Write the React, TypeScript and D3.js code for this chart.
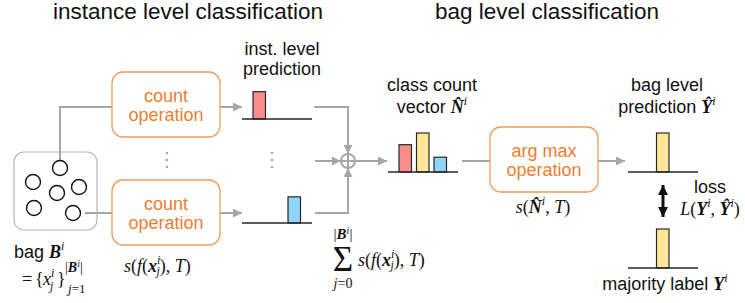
import React from 'react';
import * as d3 from 'd3';

// three classes, one colour each
const classes = ['class1', 'class2', 'class3'];
const classColors = ['#FF8C8C', '#FFE699', '#8FD6F6'];

// relative bar heights of each small histogram
const instTopPred = [0.7, 0, 0];
const instBottomPred = [0, 0, 0.67];
const classCount = [0.7, 1, 0.38];
const bagPred = [0, 1, 0];
const majorityLabel = [0, 1, 0];

// bag instances (circle centres)
const bagInstances = [
  [60, 168], [33, 182], [57, 193], [79, 187], [34, 208], [73, 213],
];

const W = 745;
const H = 303;
const SANS = '"Liberation Sans", Arial, sans-serif';
const SERIF = '"Liberation Serif", "Times New Roman", serif';
const GRAY = '#A6A6A6';
const ORANGE_TEXT = '#ED7D31';
const ORANGE_LINE = '#F29B5B';

const xBand = d3.scaleBand<string>().domain(classes).range([11, 58.5]).paddingInner(0.286);
const hScale = d3.scaleLinear().domain([0, 1]).range([0, 39]);

const Histogram = ({ x0, y0, values }: { x0: number; y0: number; values: number[] }) => (
  <g transform={`translate(${x0},${y0})`}>
    {values.map((v, i) =>
      v > 0 ? (
        <rect
          key={i}
          x={xBand(classes[i])}
          y={-hScale(v)}
          width={xBand.bandwidth()}
          height={hScale(v)}
          fill={classColors[i]}
          stroke="#262626"
          strokeWidth={1.2}
        />
      ) : null
    )}
    <line x1={0} x2={70} y1={0} y2={0} stroke="#262626" strokeWidth={1.3} />
  </g>
);

const OpBox = ({ x, y, lines }: { x: number; y: number; lines: string[] }) => (
  <g>
    <rect x={x} y={y} width={108} height={65} rx={11} fill="#fff" stroke={ORANGE_LINE} strokeWidth={1.3} />
    {lines.map((t, i) => (
      <text key={i} x={x + 54} y={y + 30 + i * 19} textAnchor="middle" fontSize={18} fill={ORANGE_TEXT} fontFamily={SANS}>
        {t}
      </text>
    ))}
  </g>
);

const Dots = ({ x }: { x: number }) => (
  <g fill={GRAY}>
    {[153, 160, 167].map((y) => (
      <circle key={y} cx={x} cy={y} r={1.3} />
    ))}
  </g>
);

const it = { fontStyle: 'italic' } as const;
const bi = { fontStyle: 'italic', fontWeight: 'bold' } as const;

// s(f(x_j^i), T)
const SFX = ({ x, y }: { x: number; y: number }) => (
  <text x={x} y={y}>
    <tspan style={it}>s</tspan>(<tspan style={it}>f</tspan>(<tspan style={bi}>x</tspan>
    <tspan style={it} fontSize={12} dy={-8}>i</tspan>
    <tspan style={it} fontSize={12} dx={-4} dy={11}>j</tspan>
    <tspan dy={-3}>), </tspan><tspan style={it}>T</tspan>)
  </text>
);

export default function App() {
  return (
    <svg width={W} height={H} style={{ position: 'absolute', left: 0, top: 0, background: '#fff' }}>
      <defs>
        <marker id="ag" viewBox="0 0 10 10" refX={10} refY={5} markerWidth={9} markerHeight={9} markerUnits="userSpaceOnUse" orient="auto">
          <path d="M0,0 L10,5 L0,10 z" fill={GRAY} />
        </marker>
        <marker id="ab" viewBox="0 0 10 10" refX={10} refY={5} markerWidth={10} markerHeight={11} markerUnits="userSpaceOnUse" orient="auto-start-reverse">
          <path d="M0,0 L10,5 L0,10 z" fill="#111" />
        </marker>
      </defs>

      {/* titles */}
      <text x={188} y={19} textAnchor="middle" fontSize={22.5} fontFamily={SANS} fill="#111">instance level classification</text>
      <text x={547} y={19} textAnchor="middle" fontSize={22.5} fontFamily={SANS} fill="#111">bag level classification</text>

      {/* connectors */}
      <g stroke={GRAY} strokeWidth={2} fill="none">
        <polyline points="112,107 60,107 60,160" />
        <line x1={220} y1={107} x2={242} y2={107} markerEnd="url(#ag)" />
        <line x1={85} y1={213} x2={112} y2={213} />
        <line x1={220} y1={213} x2={242} y2={213} markerEnd="url(#ag)" />
        <polyline points="314,107 348,107 348,154" markerEnd="url(#ag)" />
        <polyline points="315,213 348,213 348,168" markerEnd="url(#ag)" />
        <line x1={315} y1={161} x2={341} y2={161} markerEnd="url(#ag)" />
        <line x1={355} y1={161} x2={387} y2={161} markerEnd="url(#ag)" />
        <line x1={462} y1={161} x2={490} y2={161} />
        <line x1={598} y1={161} x2={625} y2={161} markerEnd="url(#ag)" />
        <circle cx={348} cy={161} r={7} />
        <line x1={341} y1={161} x2={355} y2={161} />
        <line x1={348} y1={154} x2={348} y2={168} />
      </g>

      {/* bag */}
      <rect x={14} y={152} width={83} height={78} rx={10} fill="none" stroke="#B4B4B4" strokeWidth={1.2} />
      {bagInstances.map(([cx, cy], i) => (
        <circle key={i} cx={cx} cy={cy} r={7.5} fill="#fff" stroke="#111" strokeWidth={1.4} />
      ))}

      <OpBox x={112} y={72} lines={['count', 'operation']} />
      <OpBox x={112} y={180} lines={['count', 'operation']} />
      <OpBox x={490} y={127} lines={['arg max', 'operation']} />

      <Dots x={167} />
      <Dots x={272} />

      <Histogram x0={242} y0={119} values={instTopPred} />
      <Histogram x0={242} y0={223} values={instBottomPred} />
      <Histogram x0={388} y0={172} values={classCount} />
      <Histogram x0={628} y0={172} values={bagPred} />
      <Histogram x0={628} y0={268} values={majorityLabel} />

      {/* loss arrow */}
      <line x1={663} y1={185} x2={663} y2={217} stroke="#111" strokeWidth={3} markerStart="url(#ab)" markerEnd="url(#ab)" />

      <g fontFamily={SANS} fontSize={18} fill="#111" textAnchor="middle">
        <text x={282} y={55}>inst. level</text>
        <text x={282} y={75}>prediction</text>
        <text x={432} y={91}>class count</text>
        <text x={432} y={113}>vector <tspan fontFamily={SERIF} style={bi}>N&#770;</tspan><tspan fontFamily={SERIF} style={it} fontSize={12} dy={-8}>i</tspan></text>
        <text x={667} y={91}>bag level</text>
        <text x={667} y={113}>prediction <tspan fontFamily={SERIF} style={bi}>Y&#770;</tspan><tspan fontFamily={SERIF} style={it} fontSize={12} dy={-8}>i</tspan></text>
        <text x={710} y={193}>loss</text>
        <text x={665} y={290}>majority label <tspan fontFamily={SERIF} style={bi}>Y</tspan><tspan fontFamily={SERIF} style={it} fontSize={12} dy={-8}>i</tspan></text>
      </g>

      <text x={14} y={258} fontFamily={SANS} fontSize={18} fill="#111">
        bag <tspan fontFamily={SERIF} style={bi}>B</tspan><tspan fontFamily={SERIF} style={it} fontSize={12} dy={-8}>i</tspan>
      </text>

      <g fontFamily={SERIF} fontSize={18} fill="#111">
        {/* = {x_j^i}_{j=1}^{|B^i|} */}
        <text x={22} y={285}>=</text>
        <text x={35} y={285}>{'{'}</text>
        <text x={43} y={285} style={it}>x</text>
        <text x={51} y={277} style={it} fontSize={12}>i</text>
        <text x={50} y={290} style={it} fontSize={12}>j</text>
        <text x={57} y={285}>{'}'}</text>
        <text x={65} y={272} fontSize={14}>|<tspan style={bi}>B</tspan><tspan style={it} fontSize={10} dy={-5}>i</tspan><tspan dy={5}>|</tspan></text>
        <text x={68} y={293} fontSize={13}><tspan style={it}>j</tspan>=1</text>

        <SFX x={124} y={272} />

        {/* sum */}
        <text x={343} y={271} textAnchor="middle" fontSize={35}>Σ</text>
        <text x={343} y={239} textAnchor="middle" fontSize={15}>|<tspan style={bi}>B</tspan><tspan style={it} fontSize={10} dy={-5}>i</tspan><tspan dy={5}>|</tspan></text>
        <text x={343} y={288} textAnchor="middle" fontSize={14}><tspan style={it}>j</tspan>=0</text>
        <SFX x={358} y={266} />

        {/* s(N^i, T) */}
        <text x={543} y={213} textAnchor="middle">
          <tspan style={it}>s</tspan>(<tspan style={bi}>N&#770;</tspan><tspan style={it} fontSize={12} dy={-8}>i</tspan><tspan dy={8}>, </tspan><tspan style={it}>T</tspan>)
        </text>

        {/* L(Y^i, Y^^i) */}
        <text x={710} y={215} textAnchor="middle">
          <tspan style={it}>L</tspan>(<tspan style={bi}>Y</tspan><tspan style={it} fontSize={12} dy={-8}>i</tspan><tspan dy={8}>, </tspan><tspan style={bi}>Y&#770;</tspan><tspan style={it} fontSize={12} dy={-8}>i</tspan><tspan dy={8}>)</tspan>
        </text>
      </g>
    </svg>
  );
}
